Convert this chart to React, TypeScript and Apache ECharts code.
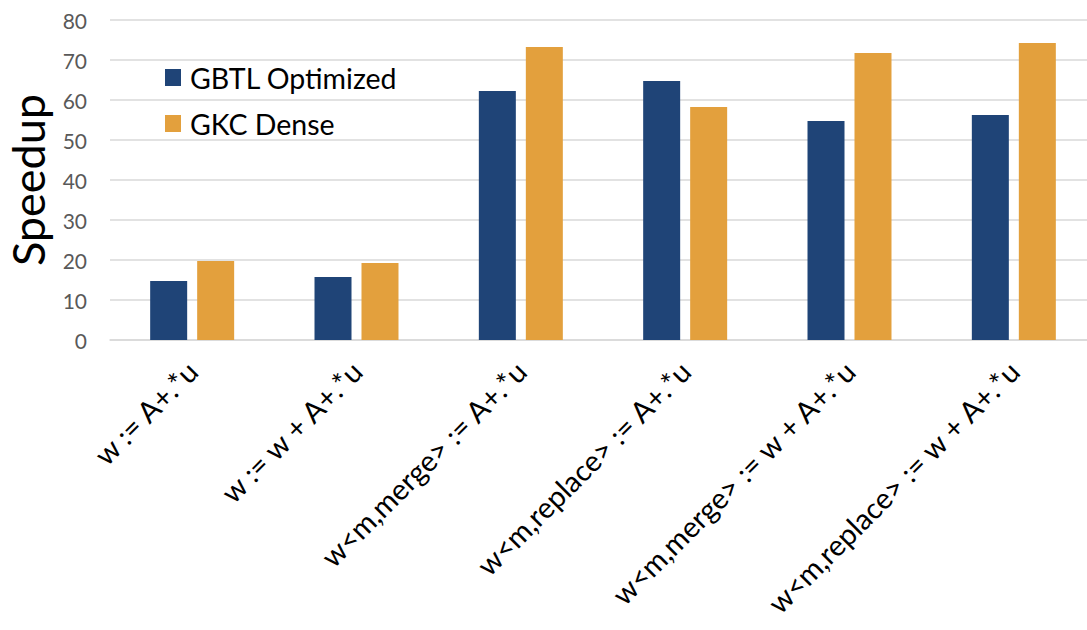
import React, { useEffect, useRef } from "react";
import * as echarts from "echarts";

const categories = [
  "w := A+.*u",
  "w := w + A+.*u",
  "w<m,merge> := A+.*u",
  "w<m,replace> := A+.*u",
  "w<m,merge> := w + A+.*u",
  "w<m,replace> := w + A+.*u",
];
const gbtlOptimized = [14.75, 15.75, 62.25, 64.75, 54.75, 56.25];
const gkcDense = [19.75, 19.25, 73.25, 58.25, 71.75, 74.25];
const yTicks = { min: 0, max: 80, interval: 10 };

const FONT = "Lato, 'Open Sans', sans-serif";

export default function App() {
  const ref = useRef<HTMLDivElement>(null);

  useEffect(() => {
    if (!ref.current) return;
    const chart = echarts.init(ref.current, null, { renderer: "svg" });
    chart.setOption({
      animation: false,
      backgroundColor: "#ffffff",
      grid: {
        left: 110,
        top: 20,
        width: 986,
        height: 320,
        containLabel: false,
        outerBoundsMode: "none",
      },
      legend: {
        orient: "vertical",
        left: 160,
        top: 58,
        itemWidth: 16,
        itemHeight: 17,
        itemGap: 17,
        icon: "rect",
        textStyle: { fontFamily: FONT, fontSize: 28.5, color: "#000000", padding: [0, 0, 0, 4] },
        data: ["GBTL Optimized", "GKC Dense"],
      },
      xAxis: {
        type: "category",
        data: categories,
        axisLine: { show: true, lineStyle: { color: "#D9D9D9", width: 1.5 } },
        axisTick: { show: false },
        axisLabel: {
          rotate: 45,
          margin: 26,
          interval: 0,
          fontFamily: FONT,
          fontSize: 29,
          color: "#000000",
        },
      },
      yAxis: {
        type: "value",
        min: yTicks.min,
        max: yTicks.max,
        interval: yTicks.interval,
        name: "Speedup",
        nameLocation: "middle",
        nameGap: 60,
        nameTextStyle: { fontFamily: FONT, fontSize: 45, color: "#000000" },
        axisLine: { show: false },
        axisTick: { show: false },
        axisLabel: { margin: 23, fontFamily: FONT, fontSize: 21, color: "#595959" },
        splitLine: { lineStyle: { color: "#D9D9D9", width: 1.5 } },
      },
      series: [
        {
          name: "GBTL Optimized",
          type: "bar",
          data: gbtlOptimized,
          barWidth: 37,
          barGap: "27%",
          itemStyle: { color: "#1F4477" },
        },
        {
          name: "GKC Dense",
          type: "bar",
          data: gkcDense,
          barWidth: 37,
          barGap: "27%",
          itemStyle: { color: "#E3A03D" },
        },
      ],
    });
    return () => chart.dispose();
  }, []);

  return (
    <div
      ref={ref}
      style={{ position: "fixed", left: 0, top: 0, width: 1087, height: 630 }}
    />
  );
}
